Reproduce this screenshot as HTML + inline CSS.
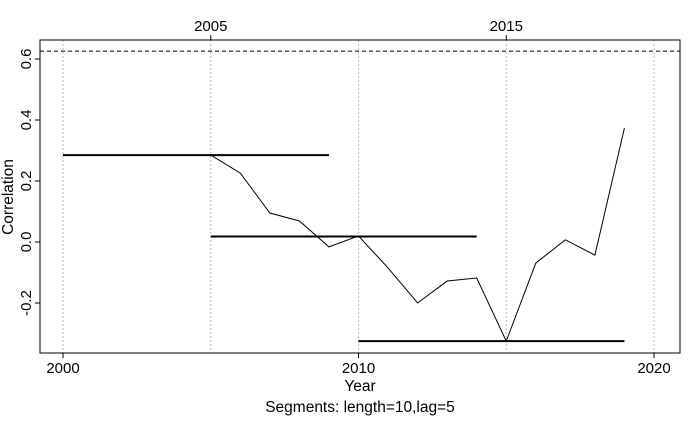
<!DOCTYPE html>
<html><head><meta charset="utf-8"><style>
body{margin:0;background:#fff}
svg{display:block;font-family:"Liberation Sans",Arial,sans-serif}
</style></head><body>
<svg id="chart" width="700" height="432"></svg>
<script>
const years=[2005,2006,2007,2008,2009,2010,2011,2012,2013,2014,2015,2016,2017,2018,2019];
const corr=[0.285,0.226,0.095,0.069,-0.016,0.02,-0.085,-0.2,-0.128,-0.118,-0.325,-0.069,0.007,-0.043,0.374];
const segStart=[2000,2005,2010];
const segEnd=[2009,2014,2019];
const segVal=[0.285,0.018,-0.325];
const critVal=[0.626];
const bottomTicks=[2000,2010,2020];
const topTicks=[2005,2015];
const gridYears=[2000,2005,2010,2015,2020];
const yTicks=[-0.2,0,0.2,0.4,0.6];
const yTickLabels=["-0.2","0.0","0.2","0.4","0.6"];

const NS="http://www.w3.org/2000/svg";
const svg=document.getElementById('chart');
const X=v=>63+(v-2000)*29.55;
const Y=v=>242-v*305;
function el(t,a,txt){const e=document.createElementNS(NS,t);for(const k in a)e.setAttribute(k,a[k]);if(txt!==undefined)e.textContent=txt;svg.appendChild(e);return e;}

gridYears.forEach(g=>{const e=el('line',{x1:X(g),x2:X(g),y1:40,y2:353,stroke:'#bbb','stroke-dasharray':'2,2'});

});

let e=el('line',{x1:40,x2:680,y1:Y(critVal[0]),y2:Y(critVal[0]),stroke:'#000','stroke-dasharray':'4,3'});



segStart.forEach((s,i)=>{const l=el('line',{x1:X(s),x2:X(segEnd[i]),y1:Y(segVal[i]),y2:Y(segVal[i]),stroke:'#000','stroke-width':2});

});

e=el('polyline',{points:years.map((y,i)=>X(y)+','+Y(corr[i])).join(' '),fill:'none',stroke:'#000','stroke-width':1});



e=el('rect',{x:40,y:40,width:640,height:313,fill:'none',stroke:'#000'});



bottomTicks.forEach(t=>{el('line',{x1:X(t),x2:X(t),y1:353,y2:358,stroke:'#000'});
const tx=el('text',{x:X(t),y:373,'font-size':15,'text-anchor':'middle'},String(t));

});
topTicks.forEach(t=>{el('line',{x1:X(t),x2:X(t),y1:35,y2:40,stroke:'#000'});
const tx=el('text',{x:X(t),y:31,'font-size':15,'text-anchor':'middle'},String(t));

});
yTicks.forEach((t,i)=>{el('line',{x1:35,x2:40,y1:Y(t),y2:Y(t),stroke:'#000'});
const tx=el('text',{x:0,y:0,'font-size':15,'text-anchor':'middle',transform:`translate(31,${Y(t)}) rotate(-90)`},yTickLabels[i]);

});

e=el('text',{x:360,y:391,'font-size':15.5,'text-anchor':'middle'},'Year');


e=el('text',{x:360,y:412,'font-size':15.5,'text-anchor':'middle'},'Segments: length=10,lag=5');


e=el('text',{x:0,y:0,'font-size':15.5,'text-anchor':'middle',transform:'translate(13,197) rotate(-90)'},'Correlation');


</script>
</body></html>
